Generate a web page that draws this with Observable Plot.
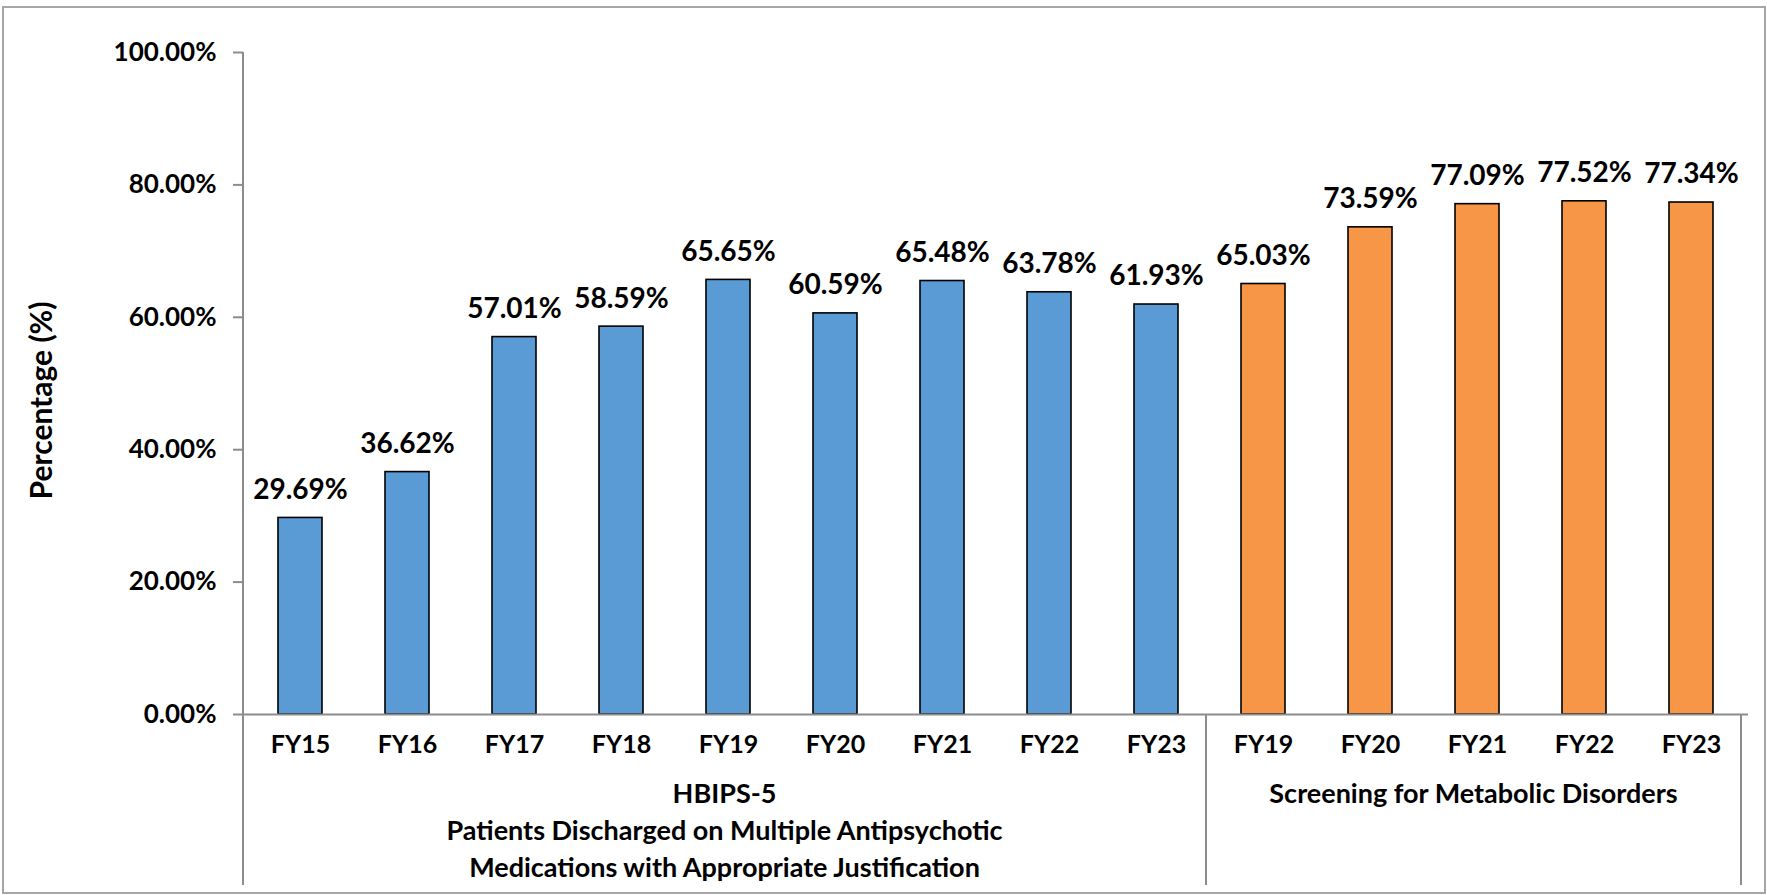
<!DOCTYPE html>
<html>
<head>
<meta charset="utf-8">
<script src="https://cdn.jsdelivr.net/npm/d3@7"></script>
<script src="https://cdn.jsdelivr.net/npm/@observablehq/plot@0.6"></script>
<style>
  html, body { margin: 0; padding: 0; background: #fff; overflow: hidden; }
  #chart { width: 1767px; height: 895px; }
  svg { font-family: Lato, "Open Sans", sans-serif; }
</style>
</head>
<body>
<div id="chart"></div>
<script>
// ---- data ----
const hbipsYears = ["FY15","FY16","FY17","FY18","FY19","FY20","FY21","FY22","FY23"];
const hbipsValues = [29.69, 36.62, 57.01, 58.59, 65.65, 60.59, 65.48, 63.78, 61.93];
const metabolicYears = ["FY19","FY20","FY21","FY22","FY23"];
const metabolicValues = [65.03, 73.59, 77.09, 77.52, 77.34];
const groupNames = ["HBIPS-5", "Screening for Metabolic Disorders"];
const groupLabelLines = [
  ["HBIPS-5", "Patients Discharged on Multiple Antipsychotic", "Medications with Appropriate Justification"],
  ["Screening for Metabolic Disorders"]
];
const groupColors = ["#5B9BD5", "#F79646"];
const yTicks = [0, 0.2, 0.4, 0.6, 0.8, 1.0];
const yTitle = "Percentage (%)";

// ---- table built from the arrays ----
const rows = [
  ...hbipsYears.map((fy, i) => ({group: groupNames[0], fy, key: groupNames[0] + "|" + fy, value: hbipsValues[i] / 100})),
  ...metabolicYears.map((fy, i) => ({group: groupNames[1], fy, key: groupNames[1] + "|" + fy, value: metabolicValues[i] / 100}))
];
const keys = rows.map(d => d.key);
const groupMembers = groupNames.map(g => rows.filter(d => d.group === g).map(d => d.key));

const W = 1767, H = 895;
const axisGray = "#8c8c8c";

const plot = Plot.plot({
  width: W,
  height: H,
  marginLeft: 243,
  marginRight: 19,
  marginTop: 52,
  marginBottom: 181,
  style: {fontFamily: "Lato, 'Open Sans', sans-serif", background: "#fff", overflow: "visible"},
  x: {type: "band", domain: keys, paddingInner: 0.59, paddingOuter: 0.295, align: 0.5, axis: null},
  y: {domain: [0, 1], axis: null},
  color: {domain: groupNames, range: groupColors},
  marks: [
    Plot.barY(rows, {x: "key", y: "value", fill: "group", stroke: "#000", strokeWidth: 1.6}),
    Plot.ruleY([0], {stroke: axisGray, strokeWidth: 2}),
    Plot.axisY({
      ticks: yTicks, tickSize: 10, tickPadding: 17, stroke: axisGray, strokeWidth: 2,
      tickFormat: d3.format(".2%"), fontSize: 26, fontWeight: "bold", fill: "#000", label: null
    }),
    Plot.axisX({
      tickSize: 0, tickPadding: 21, tickFormat: k => k.split("|")[1],
      fontSize: 25, fontWeight: "bold", fill: "#000", label: null
    }),
    Plot.text(rows, {
      x: "key", y: "value", text: d => (d.value * 100).toFixed(2) + "%",
      dy: -28, lineAnchor: "middle", fontSize: 28, fontWeight: "bold", fill: "#000"
    }),
    Plot.text([yTitle], {
      frameAnchor: "left", textAnchor: "middle", lineAnchor: "middle",
      dx: -201, dy: 17, rotate: -90, text: d => d,
      fontSize: 30, fontWeight: "bold", fill: "#000"
    })
  ]
});

document.getElementById("chart").appendChild(plot);

// ---- group boxes and labels, positioned through Plot's own scales ----
const xs = plot.scale("x");
const ys = plot.scale("y");
const x0 = xs.range[0];
const step = xs.step;
const yZero = ys.apply(0);
const yTop = ys.apply(1);
const boxBottom = 885;
const svg = d3.select(plot);

// y axis line extended down into the category box
svg.append("line")
  .attr("x1", x0).attr("x2", x0).attr("y1", yTop).attr("y2", boxBottom)
  .attr("stroke", axisGray).attr("stroke-width", 2);

let idx = 0;
groupMembers.forEach((members, gi) => {
  const start = x0 + idx * step;
  idx += members.length;
  const end = x0 + idx * step;
  svg.append("line")
    .attr("x1", end).attr("x2", end).attr("y1", yZero).attr("y2", boxBottom)
    .attr("stroke", axisGray).attr("stroke-width", 2);
  const lines = groupLabelLines[gi];
  const t = svg.append("text")
    .attr("text-anchor", "middle")
    .attr("font-size", 27).attr("font-weight", "bold").attr("fill", "#000")
    .attr("font-family", "Lato, 'Open Sans', sans-serif");
  lines.forEach((ln, li) => {
    t.append("tspan")
      .attr("x", (start + end) / 2)
      .attr("y", yZero + 89 + li * 37)
      .text(ln);
  });
});

// outer chart border
svg.append("rect")
  .attr("x", 3).attr("y", 7).attr("width", W - 5).attr("height", H - 9)
  .attr("fill", "none").attr("stroke", "#a6a6a6").attr("stroke-width", 2);
</script>
</body>
</html>
